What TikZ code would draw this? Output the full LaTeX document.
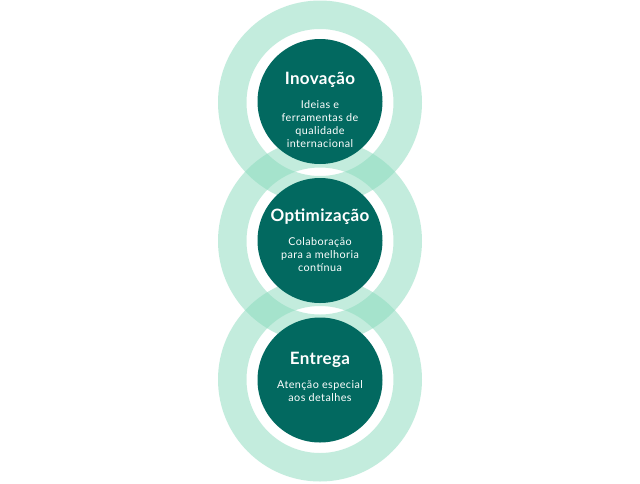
\documentclass[tikz,border=0pt]{standalone}
\usepackage{fontspec}
\setmainfont{Lato}
\newfontfamily\bodyfont{Lato}[LetterSpace=4]
\newfontfamily\titlefont{Lato}[LetterSpace=2]
\definecolor{ringmint}{RGB}{137,219,189}
\definecolor{darkteal}{RGB}{2,105,96}
\begin{document}
\begin{tikzpicture}[x=1pt,y=-1pt,
  ringfill/.style={fill=ringmint,fill opacity=0.5,even odd rule},
  disc/.style={circle,fill=darkteal,minimum size=125pt,inner sep=0pt},
  ttl/.style={text=white,inner sep=0pt,font=\titlefont\fontsize{17}{19}\selectfont\bfseries},
  body/.style={text=white,inner sep=0pt,align=center,font=\bodyfont\fontsize{10.8}{13}\selectfont}]
\useasboundingbox (0,0) rectangle (640,483);
\fill[white] (0,0) rectangle (640,483);
% rings
\fill[ringfill] (320,102.5) circle (102) (320,102.5) circle (73.5);
\fill[ringfill] (320,241) circle (102) (320,241) circle (73.5);
\fill[ringfill] (320,379.5) circle (102) (320,379.5) circle (73.5);
% discs
\node[disc] (c1) at (320,101.5) {};
\node[disc] (c2) at (320,240.5) {};
\node[disc] (c3) at (320,380) {};
% texts
\node[ttl] (t1) at (320,80) {Inovação};
\node[body] (b1) at (320,124) {Ideias e\\ferramentas de\\qualidade\\internacional};
\node[ttl] (t2) at (320,217) {Optimização};
\node[body] (b2) at (320,255) {Colaboração\\para a melhoria\\contínua};
\node[ttl] (t3) at (320,360) {Entrega};
\node[body] (b3) at (320,391) {Atenção especial\\aos detalhes};
\end{tikzpicture}
\end{document}
